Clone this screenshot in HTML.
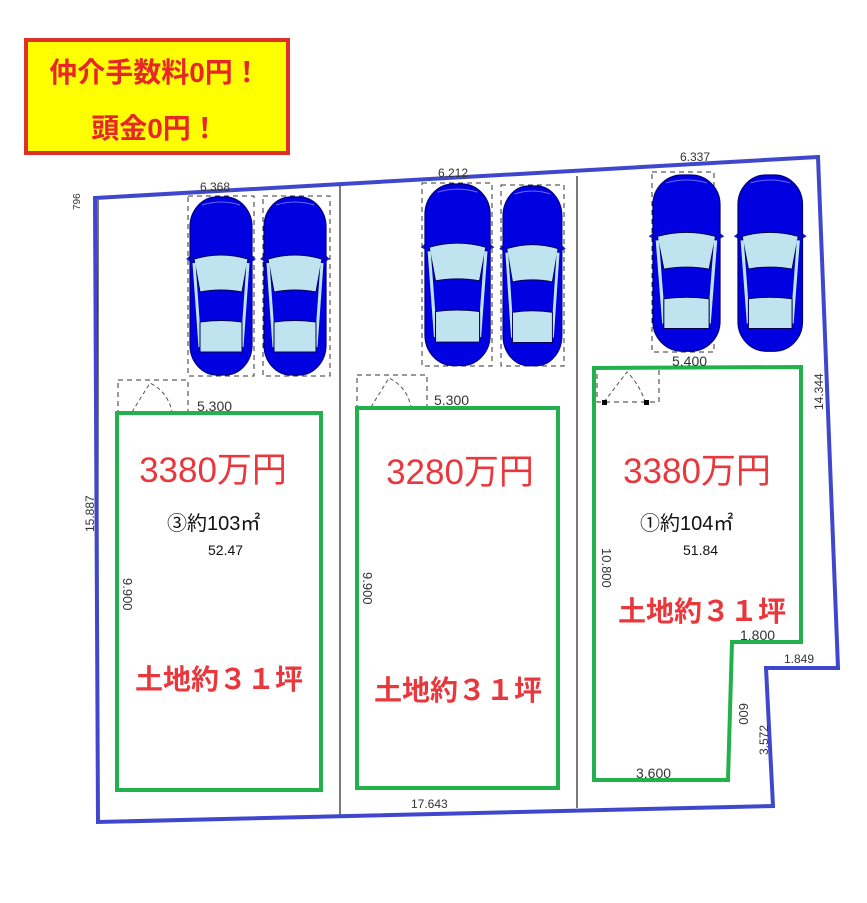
<!DOCTYPE html>
<html><head><meta charset="utf-8"><style>
html,body{margin:0;padding:0;background:#fff;}
svg{display:block;font-family:"Liberation Sans","Noto Sans CJK JP",sans-serif;}
</style></head><body>
<svg width="867" height="903" viewBox="0 0 867 903" xmlns="http://www.w3.org/2000/svg">
<defs>
<g id="car">
 <path d="M-4,62 L3,56 L3,66 Z M66,62 L59,56 L59,66 Z" fill="#1a1acc"/>
 <rect x="0" y="0" width="62" height="178" rx="27" ry="30" fill="#0000e0" stroke="#000080" stroke-width="1.2"/>
 <path d="M12,8 Q31,2 50,8" stroke="#6a6aff" fill="none" stroke-width="1"/>
 <path d="M4,62 Q31,54 58,62 L52,95 Q31,91 10,95 Z" fill="#bfe3ef" stroke="#000050" stroke-width="1"/>
 <path d="M4,66 L10,150 M58,66 L52,150" stroke="#bfe3ef" stroke-width="3"/>
 <path d="M10,125 Q31,122 52,125 L52,155 L10,155 Z" fill="#bfe3ef" stroke="#000050" stroke-width="1"/>
</g>
</defs>

<g stroke="#333" stroke-width="1" stroke-dasharray="5,4" fill="none">
 <rect x="188" y="196" width="66" height="180"/>
 <rect x="263" y="196" width="67" height="180"/>
 <rect x="422" y="183" width="70" height="183"/>
 <rect x="501" y="185" width="63" height="181"/>
 <rect x="652" y="172" width="62" height="180"/>
 <rect x="118" y="380" width="70" height="33"/>
 <rect x="357" y="375" width="70" height="33"/>
 <rect x="597" y="369" width="62" height="33"/>
</g>
<g stroke="#555" stroke-width="1" stroke-dasharray="4,3" fill="none">
 <path d="M132,412 L150,383 Q168,392 172,412"/>
 <path d="M371,407 L389,378 Q407,387 411,407"/>
 <path d="M604,402 L627,372 Q640,385 645,402"/>
</g>
<rect x="602" y="400" width="5" height="5" fill="#000"/><rect x="644" y="400" width="5" height="5" fill="#000"/>

<g stroke="#222" stroke-width="1.2">
 <line x1="340" y1="186" x2="340" y2="815"/>
 <line x1="577" y1="176" x2="577" y2="808"/>
 <line x1="98" y1="200" x2="98" y2="820"/>
</g>

<use href="#car" transform="translate(190,197)"/>
<use href="#car" transform="translate(264,197)"/>
<use href="#car" transform="translate(425,184) scale(1.05,1.02)"/>
<use href="#car" transform="translate(503,186) scale(0.95,1.01)"/>
<use href="#car" transform="translate(653,175) scale(1.08,0.99)"/>
<use href="#car" transform="translate(738,175) scale(1.04,0.99)"/>

<path d="M95,198 L818,157 L838,668 L766,668 L773,806 L98,822 Z" fill="none" stroke="#3f48cc" stroke-width="4"/>

<g fill="none" stroke="#22b14c" stroke-width="4">
 <rect x="117" y="413" width="204" height="377"/>
 <rect x="357" y="408" width="201" height="380"/>
 <path d="M594,368 L801,367 L801,642 L732,642 L728,780 L594,780 Z"/>
</g>

<g fill="#333" font-size="12">
 <text x="200" y="191">6.368</text>
 <text x="438" y="177">6.212</text>
 <text x="680" y="161">6.337</text>
 <text x="197" y="411" font-size="14">5.300</text>
 <text x="434" y="405" font-size="14">5.300</text>
 <text x="672" y="366" font-size="14">5.400</text>
 <text x="411" y="808">17.643</text>
 <text x="740" y="640" font-size="14">1.800</text>
 <text x="784" y="663">1.849</text>
 <text x="636" y="778" font-size="14">3.600</text>
 <text transform="translate(94,532) rotate(-90)">15.887</text>
 <text transform="translate(823,410) rotate(-90)">14.344</text>
 <text transform="translate(768,755) rotate(-90)">3.572</text>
 <text transform="translate(80,210) rotate(-90)" font-size="10">796</text>
 <text transform="translate(123,578) rotate(90)" font-size="13">9.900</text>
 <text transform="translate(363,572) rotate(90)" font-size="13">9.900</text>
 <text transform="translate(602,548) rotate(90)" font-size="13">10.800</text>
 <text transform="translate(739,703) rotate(90)" font-size="13">600</text>
</g>

<g fill="#111" font-size="20">
 <text x="167" y="530">③約103㎡</text>
 <text x="640" y="530">①約104㎡</text>
 <text x="208" y="555" font-size="14">52.47</text>
 <text x="683" y="555" font-size="14">51.84</text>
</g>

<g fill="#e8383d" font-size="35">
 <text x="213" y="482" text-anchor="middle">3380万円</text>
 <text x="460" y="484" text-anchor="middle">3280万円</text>
 <text x="697" y="483" text-anchor="middle">3380万円</text>
</g>
<g fill="#e8383d" font-size="28" font-weight="bold">
 <text x="219" y="689" text-anchor="middle">土地約３１坪</text>
 <text x="458" y="700" text-anchor="middle">土地約３１坪</text>
 <text x="702" y="621" text-anchor="middle">土地約３１坪</text>
</g>

<rect x="26" y="40" width="262" height="113" fill="#ffff00" stroke="#e0302a" stroke-width="4"/>
<g fill="#e8262a" font-size="28" font-weight="bold">
 <text x="155" y="82" text-anchor="middle">仲介手数料0円！</text>
 <text x="155" y="138" text-anchor="middle">頭金0円！</text>
</g>
</svg>
</body></html>
